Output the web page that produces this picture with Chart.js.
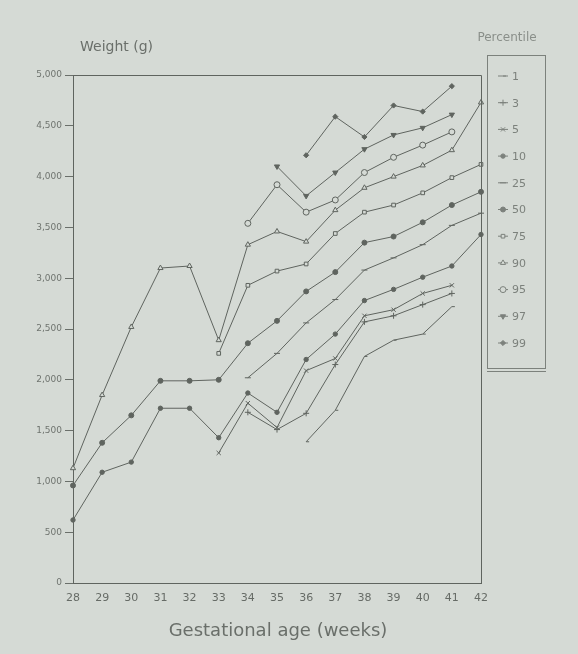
<!DOCTYPE html>
<html>
<head>
<meta charset="utf-8">
<script src="https://cdn.jsdelivr.net/npm/chart.js@4/dist/chart.umd.min.js"></script>
<style>
  html, body { margin: 0; padding: 0; background: #d5dad5; }
  #wrap { position: relative; width: 578px; height: 654px; }
  canvas { display: block; }
</style>
</head>
<body>
<div id="wrap"><canvas id="c" width="578" height="654"></canvas></div>
<script>
// Gestational age in weeks
const weeks = [28, 29, 30, 31, 32, 33, 34, 35, 36, 37, 38, 39, 40, 41, 42];

// Birth weight percentiles (g) per week; null where the percentile is not given
const p1  = [null, null, null, null, null, null, null, null, 1390, 1700, 2230, 2390, 2450, 2720, null];
const p3  = [null, null, null, null, null, null, 1680, 1510, 1670, 2150, 2570, 2630, 2740, 2850, null];
const p5  = [null, null, null, null, null, 1280, 1770, 1530, 2090, 2210, 2630, 2690, 2850, 2930, null];
const p10 = [620, 1090, 1190, 1720, 1720, 1430, 1870, 1680, 2200, 2450, 2780, 2890, 3010, 3120, 3430];
const p25 = [null, null, null, null, null, null, 2020, 2260, 2560, 2790, 3080, 3200, 3330, 3520, 3640];
const p50 = [960, 1380, 1650, 1990, 1990, 2000, 2360, 2580, 2870, 3060, 3350, 3410, 3550, 3720, 3850];
const p75 = [null, null, null, null, null, 2260, 2930, 3070, 3140, 3440, 3650, 3720, 3840, 3990, 4120];
const p90 = [1130, 1850, 2520, 3100, 3120, 2390, 3330, 3460, 3360, 3670, 3890, 4000, 4110, 4260, 4730];
const p95 = [null, null, null, null, null, null, 3540, 3920, 3650, 3770, 4040, 4190, 4310, 4440, null];
const p97 = [null, null, null, null, null, null, null, 4100, 3810, 4040, 4270, 4410, 4480, 4610, null];
const p99 = [null, null, null, null, null, null, null, null, 4210, 4590, 4390, 4700, 4640, 4890, null];

const percentileNames = ['1', '3', '5', '10', '25', '50', '75', '90', '95', '97', '99'];
const seriesValues = [p1, p3, p5, p10, p25, p50, p75, p90, p95, p97, p99];

// y-axis ticks (g)
const yTicks = [0, 500, 1000, 1500, 2000, 2500, 3000, 3500, 4000, 4500, 5000];

const INK = '#5f645f';
const PAPER = '#d5dad5';
const KEY = '#7c817c';
const markerStyles = [
  { style: 'dash',      fill: false, r: 3 },
  { style: 'cross',     fill: false, r: 3 },
  { style: 'crossRot',  fill: false, r: 3 },
  { style: 'circle',    fill: true,  r: 2.2 },
  { style: 'line',      fill: false, r: 3 },
  { style: 'circle',    fill: true,  r: 2.5 },
  { style: 'rect',      fill: false, r: 2.6 },
  { style: 'triangle',  fill: false, r: 3 },
  { style: 'circle',    fill: false, r: 3 },
  { style: 'triangle',  fill: true,  r: 3, rot: 180 },
  { style: 'rectRot',   fill: true,  r: 2.6 }
];

const datasets = seriesValues.map((vals, i) => ({
  label: percentileNames[i],
  data: vals,
  borderColor: INK,
  borderWidth: 1,
  pointStyle: markerStyles[i].style,
  pointRotation: markerStyles[i].rot || 0,
  pointRadius: markerStyles[i].r,
  pointBorderColor: INK,
  pointBorderWidth: 1,
  pointBackgroundColor: markerStyles[i].fill ? INK : PAPER,
  tension: 0,
  spanGaps: false,
  fill: false
}));

// Frame, axis titles and percentile key
const decor = {
  id: 'decor',
  afterDraw(chart) {
    const { ctx, chartArea: a } = chart;
    ctx.save();
    ctx.strokeStyle = INK;
    ctx.lineWidth = 1;
    ctx.beginPath();
    ctx.moveTo(a.left, a.top + 0.5);
    ctx.lineTo(a.right + 0.5, a.top + 0.5);
    ctx.lineTo(a.right + 0.5, a.bottom);
    ctx.stroke();

    ctx.fillStyle = '#6a6f6a';
    ctx.font = '14px "DejaVu Sans", sans-serif';
    ctx.textAlign = 'left';
    ctx.textBaseline = 'middle';
    ctx.fillText('Weight (g)', 80, 47);

    ctx.font = '18px "DejaVu Sans", sans-serif';
    ctx.textAlign = 'center';
    ctx.fillText('Gestational age (weeks)', 278, 631);

    ctx.fillStyle = '#8a8f8a';
    ctx.font = '12px "DejaVu Sans", sans-serif';
    ctx.fillText('Percentile', 507, 38);

    // key box
    ctx.strokeStyle = KEY;
    ctx.strokeRect(487.5, 55.5, 58, 313);
    ctx.beginPath();
    ctx.moveTo(487, 371.5); ctx.lineTo(546, 371.5);
    ctx.stroke();

    ctx.font = '11px "DejaVu Sans", sans-serif';
    ctx.textAlign = 'left';
    chart.data.datasets.forEach((ds, i) => {
      const y = 76 + i * 26.7;
      ctx.strokeStyle = KEY;
      ctx.lineWidth = 1;
      ctx.beginPath();
      ctx.moveTo(498, y); ctx.lineTo(508, y);
      ctx.stroke();
      ctx.fillStyle = markerStyles[i].fill ? KEY : PAPER;
      Chart.helpers.drawPoint(ctx, {
        pointStyle: ds.pointStyle,
        rotation: ds.pointRotation,
        radius: ds.pointRadius,
        borderWidth: 1
      }, 503, y);
      ctx.fillStyle = KEY;
      ctx.fillText(ds.label, 512, y + 1);
    });
    ctx.restore();
  }
};

new Chart(document.getElementById('c'), {
  type: 'line',
  data: { labels: weeks.map(String), datasets },
  options: {
    responsive: false,
    animation: false,
    layout: { padding: { left: 0, top: 75, right: 97, bottom: 0 } },
    plugins: { legend: { display: false }, tooltip: { enabled: false } },
    scales: {
      x: {
        type: 'category',
        offset: false,
        afterFit(s) { s.height = 71; },
        grid: { display: false, drawTicks: false },
        border: { display: true, color: INK, width: 1 },
        ticks: {
          color: '#666b66',
          font: { size: 11, family: '"DejaVu Sans", sans-serif' },
          padding: 9,
          maxRotation: 0,
          autoSkip: false
        }
      },
      y: {
        type: 'linear',
        min: 0,
        max: 5000,
        afterFit(s) { s.width = 73; },
        afterBuildTicks(s) { s.ticks = yTicks.map(v => ({ value: v })); },
        grid: { display: true, drawOnChartArea: false, drawTicks: true, tickLength: 8, color: '#6a6f6a' },
        border: { display: true, color: INK, width: 1 },
        ticks: {
          color: '#6f746f',
          font: { size: 9, family: '"DejaVu Sans", sans-serif' },
          padding: 3,
          callback: v => v.toLocaleString('en-US')
        }
      }
    }
  },
  plugins: [decor]
});
</script>
</body>
</html>
